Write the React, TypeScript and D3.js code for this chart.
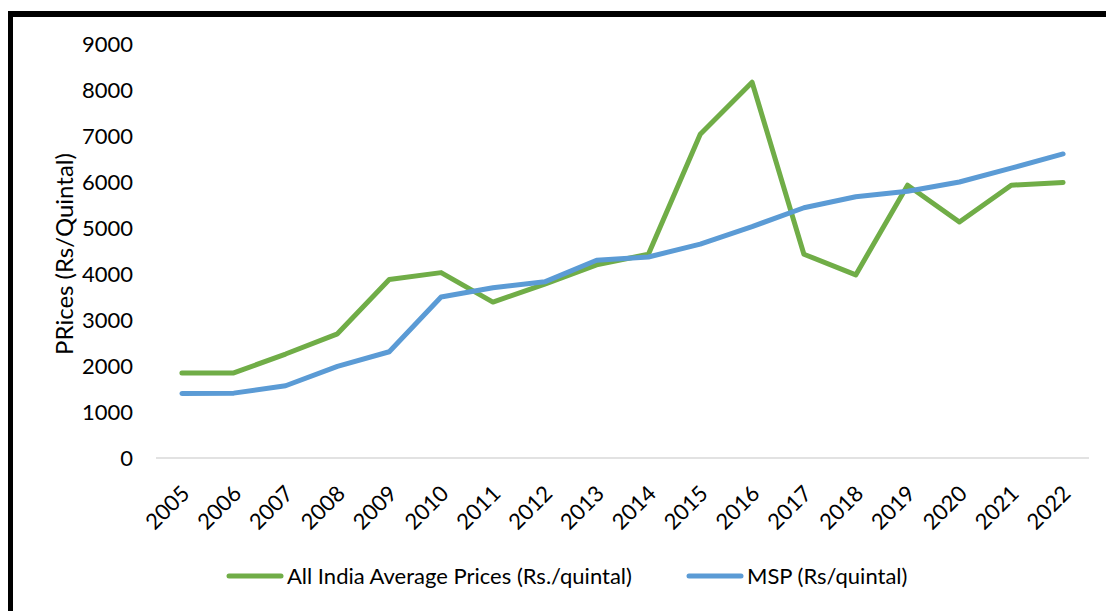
import React from "react";
import * as d3 from "d3";

// Years on the category axis
const years = [
  "2005", "2006", "2007", "2008", "2009", "2010", "2011", "2012", "2013",
  "2014", "2015", "2016", "2017", "2018", "2019", "2020", "2021", "2022",
];

// All India Average Prices (Rs./quintal)
const avgPrices = [
  1850, 1850, 2260, 2700, 3880, 4030, 3390, 3780, 4200,
  4430, 7040, 8170, 4430, 3980, 5930, 5130, 5930, 5990,
];

// MSP (Rs/quintal)
const mspPrices = [
  1400, 1410, 1570, 1990, 2310, 3500, 3700, 3830, 4300,
  4370, 4650, 5030, 5440, 5680, 5800, 6000, 6300, 6610,
];

const yTicks = [0, 1000, 2000, 3000, 4000, 5000, 6000, 7000, 8000, 9000];

const GREEN = "#70AD47";
const BLUE = "#5B9BD5";
const FONT = "Lato, 'Open Sans', sans-serif";
const FS = 22;

const W = 1106;
const H = 611;

const App = () => {
  const x = d3.scaleBand<string>().domain(years).range([156, 1089]);
  const y = d3.scaleLinear().domain([0, 9000]).range([458, 44]);
  const cx = (i: number) => (x(years[i]) as number) + x.bandwidth() / 2;

  const line = d3
    .line<number>()
    .x((_, i) => cx(i))
    .y((d) => y(d));

  const series = [
    { name: "All India Average Prices (Rs./quintal)", values: avgPrices, color: GREEN, lx: 229 },
    { name: "MSP (Rs/quintal)", values: mspPrices, color: BLUE, lx: 689 },
  ];

  return (
    <svg
      width={W}
      height={H}
      style={{ position: "absolute", left: 0, top: 0, background: "#fff" }}
      fontFamily={FONT}
    >
      {/* frame (only top and left edges visible) */}
      <line x1={8} x2={W} y1={14} y2={14} stroke="#000" strokeWidth={6} />
      <line x1={10.5} x2={10.5} y1={11} y2={H} stroke="#000" strokeWidth={5} />

      {/* y axis labels */}
      {yTicks.map((t) => (
        <text
          key={t}
          x={133}
          y={y(t)}
          dy="0.35em"
          textAnchor="end"
          fontSize={FS}
          fill="#000"
        >
          {t}
        </text>
      ))}

      {/* baseline */}
      <line x1={156} x2={1089} y1={y(0)} y2={y(0)} stroke="#D9D9D9" strokeWidth={1.5} />

      {/* x axis labels */}
      {years.map((yr, i) => (
        <text
          key={yr}
          transform={`translate(${cx(i) + 9},${495}) rotate(-45)`}
          textAnchor="end"
          fontSize={FS}
          fill="#000"
        >
          {yr}
        </text>
      ))}

      {/* y title */}
      <text
        transform={`translate(73,${254}) rotate(-90)`}
        textAnchor="middle"
        fontSize={24}
        fill="#000"
      >
        PRices (Rs/Quintal)
      </text>

      {/* series lines */}
      {series.map((s) => (
        <path
          key={s.name}
          d={line(s.values) ?? ""}
          fill="none"
          stroke={s.color}
          strokeWidth={5}
          strokeLinejoin="round"
          strokeLinecap="round"
        />
      ))}

      {/* legend */}
      {series.map((s) => (
        <g key={s.name + "-lg"}>
          <line
            x1={s.lx}
            x2={s.lx + 52}
            y1={576}
            y2={576}
            stroke={s.color}
            strokeWidth={5}
            strokeLinecap="round"
          />
          <text x={s.lx + 58} y={576} dy="0.35em" fontSize={FS} fill="#000">
            {s.name}
          </text>
        </g>
      ))}
    </svg>
  );
};

export default App;
